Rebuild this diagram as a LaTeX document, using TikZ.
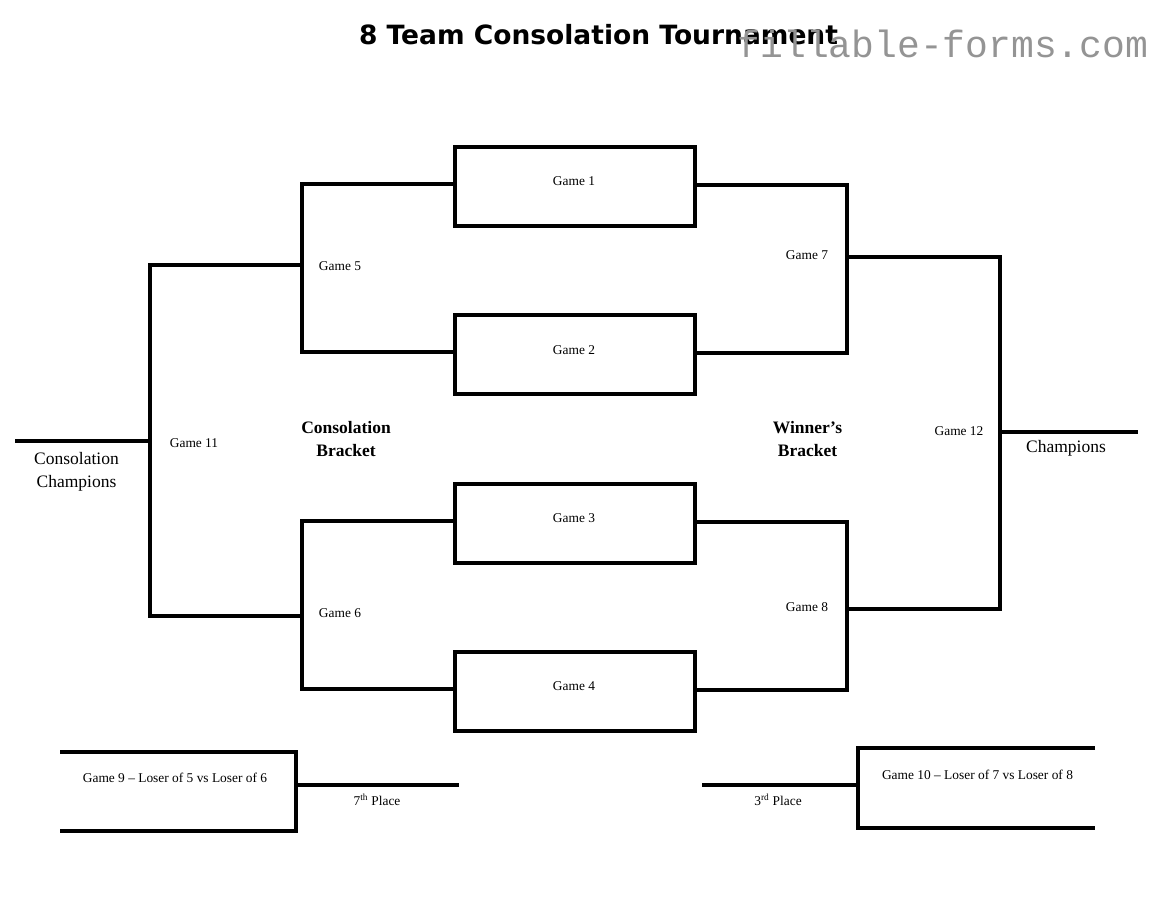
\documentclass[tikz,border=0pt]{standalone}
\usepackage{fontspec}
\setmainfont{Liberation Serif}
\newfontfamily\titlefont{DejaVu Sans}
\newfontfamily\markfont{Liberation Mono}
\usepackage{tikz}

\tikzset{
  bk/.style={line width=4pt},
  gamebox/.style={draw, line width=4pt, minimum width=240pt, minimum height=79pt, inner sep=0pt},
  gamelbl/.style={font=\fontsize{13.4}{16}\selectfont, inner sep=0pt},
  biglbl/.style={font=\fontsize{17.5}{23}\selectfont, align=center, inner sep=0pt},
}

\begin{document}
\begin{tikzpicture}[x=1pt, y=-1pt]
\useasboundingbox (0,0) rectangle (1175,908);

\node[anchor=base, font=\titlefont\bfseries\fontsize{26.5}{30}\selectfont, inner sep=0pt] (title) at (598.5,44) {8 Team Consolation Tournament};
\node[anchor=base, font=\markfont\fontsize{38}{40}\selectfont, text=black!42, inner sep=0pt] (mark) at (943,57) {fillable-forms.com};

\node[gamebox] (g1) at (575,186.5) {};
\node[gamebox] (g2) at (575,354.5) {};
\node[gamebox] (g3) at (575,523.5) {};
\node[gamebox] (g4) at (575,691.5) {};
\node[gamelbl] (t1) at (574,181.5) {Game 1};
\node[gamelbl] (t2) at (574,350) {Game 2};
\node[gamelbl] (t3) at (574,518.5) {Game 3};
\node[gamelbl] (t4) at (574,686.5) {Game 4};

\coordinate (j5) at (302,265);
\coordinate (j6) at (302,616);
\coordinate (j11) at (150,441);
\coordinate (cend) at (15,441);
\coordinate (j7) at (847,257);
\coordinate (j8) at (847,609);
\coordinate (j12) at (1000,432);
\coordinate (wend) at (1138,432);

\draw[bk] ([yshift=2.5pt]g1.west) -| (j5) |- ([yshift=2.5pt]g2.west);
\draw[bk] ([yshift=2.5pt]g3.west) -| (j6) |- ([yshift=2.5pt]g4.west);
\draw[bk] (j5) -| (j11) |- (j6);
\draw[bk] (j11) -- (cend);
\draw[bk] ([yshift=1.5pt]g1.east) -| (j7) |- ([yshift=1.5pt]g2.east);
\draw[bk] ([yshift=1.5pt]g3.east) -| (j8) |- ([yshift=1.5pt]g4.east);
\draw[bk] (j7) -| (j12) |- (j8);
\draw[bk] (j12) -- (wend);

\node[gamelbl] (t5) at (340,266) {Game 5};
\node[gamelbl] (t6) at (340,613) {Game 6};
\node[gamelbl] (t11) at (194,443) {Game 11};
\node[gamelbl] (t7) at (807,255) {Game 7};
\node[gamelbl] (t8) at (807,607) {Game 8};
\node[gamelbl] (t12) at (959,431) {Game 12};

\node[biglbl] (cchamp) at (76.5,472) {Consolation\\Champions};
\node[biglbl] (champ) at (1066,448) {Champions};
\node[biglbl, font=\bfseries\fontsize{17.5}{23}\selectfont] (cbr) at (346,439) {Consolation\\Bracket};
\node[biglbl, font=\bfseries\fontsize{17.5}{23}\selectfont] (wbr) at (807.5,439) {Winner’s\\Bracket};

\coordinate (g9t) at (60,752);
\coordinate (g9b) at (60,831);
\coordinate (j9) at (296,785);
\coordinate (p7) at (459,785);
\draw[bk] (g9t) -| (j9) |- (g9b);
\draw[bk] (j9) -- (p7);
\node[gamelbl] (t9) at (175,778) {Game 9 – Loser of 5 vs Loser of 6};
\node[gamelbl] (l7) at (377,800) {7\textsuperscript{th} Place};

\coordinate (g10t) at (1095,748);
\coordinate (g10b) at (1095,828);
\coordinate (j10) at (858,785);
\coordinate (p3) at (702,785);
\draw[bk] (g10t) -| (j10) |- (g10b);
\draw[bk] (j10) -- (p3);
\node[gamelbl] (t10) at (977.5,775) {Game 10 – Loser of 7 vs Loser of 8};
\node[gamelbl] (l3) at (778,800) {3\textsuperscript{rd} Place};
\end{tikzpicture}
\end{document}
